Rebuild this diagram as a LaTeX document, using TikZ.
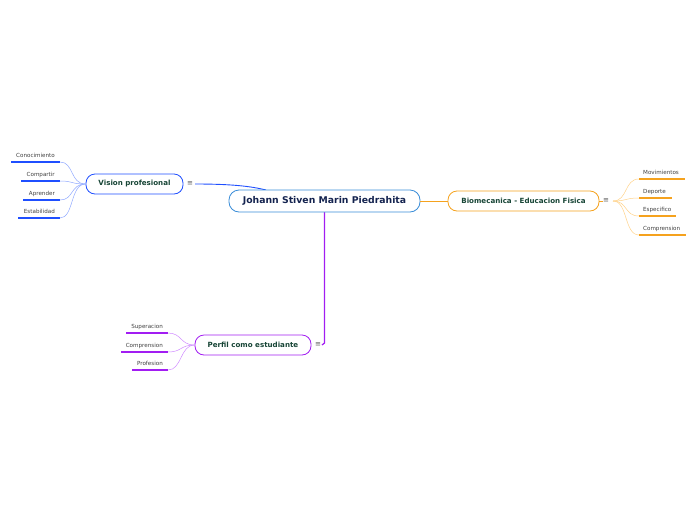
\documentclass[tikz,border=0pt]{standalone}
\usepackage{fontspec}
\setmainfont{DejaVu Sans}
\begin{document}
\begin{tikzpicture}[x=1pt,y=-1pt,
  main/.style={draw=cmain,line width=0.8pt,rounded corners=10pt,minimum width=191pt,minimum height=22pt,inner sep=0pt,font=\bfseries\fontsize{9.3}{11}\selectfont,text=ctext,fill=white},
  topic/.style={draw=#1,line width=0.8pt,rounded corners=9pt,minimum height=20pt,inner sep=0pt,font=\bfseries\fontsize{7.1}{8}\selectfont,text=cgreen,fill=white},
  lbl/.style={inner sep=0pt,font=\fontsize{5.6}{6}\selectfont,text=black!75},
  ico/.style={inner sep=0pt,font=\fontsize{7}{8}\selectfont,text=black!65},
  uline/.style={draw=#1,line width=1.2pt},
  branch/.style={draw=#1,line width=0.5pt}]
\definecolor{cmain}{HTML}{3A8DD8}
\definecolor{ctext}{HTML}{14234F}
\definecolor{cgreen}{HTML}{174536}
\definecolor{cblue}{HTML}{1F4FFF}
\definecolor{lblue}{HTML}{8FA8FF}
\definecolor{corange}{HTML}{F5A21E}
\definecolor{lorange}{HTML}{FFD28A}
\definecolor{cpurple}{HTML}{A21DF2}
\definecolor{lpurple}{HTML}{CF8BFF}
\useasboundingbox (0,0) rectangle (696,520);

% connectors from center
\coordinate (vconn) at (195,184);
\coordinate (ctop) at (266,190);
\draw[cblue,line width=0.9pt] (vconn) .. controls (230,184) and (250,186) .. (ctop);
\coordinate (pconn) at (322,345);
\coordinate (cbot) at (324.5,212);
\draw[cpurple,line width=1.2pt] (cbot) -- (324.5,343) -- (pconn);

% central
\node[main] (c) at (324.5,201) {Johann Stiven Marin Piedrahita};

% Biomecanica
\node[topic=corange,minimum width=151pt] (b) at (523.5,201) {Biomecanica - Educacion Fisica};
\draw[corange,line width=0.6pt] (c.east) -- (b.west);
\node[ico] (bi) at (606,201) {≡};
\coordinate (bo) at (613,201);
\draw[corange,line width=0.5pt] (b.east) -- (bi.west);
\foreach \n/\t/\y/\xe in {b1/Movimientos/179/685,b2/Deporte/198/672,b3/Especifico/216/676,b4/Comprension/235/686}{
  \coordinate (\n a) at (639,\y);
  \coordinate (\n b) at (\xe,\y);
  \node[lbl,anchor=base west] (\n t) at (643,\y-4.5) {\t};
  \draw[uline=corange] (\n a) -- (\n b);
  \draw[branch=lorange] (bo) .. controls (628,201) and (624,\y) .. (\n a);
}

% Vision profesional
\node[topic=cblue,minimum width=97pt] (v) at (134.5,184) {Vision profesional};
\node[ico] (vi) at (190,184) {≡};
\foreach \n/\t/\y/\xs in {v1/Conocimiento/162/11,v2/Compartir/181/21,v3/Aprender/200/23,v4/Estabilidad/218/18}{
  \coordinate (\n a) at (\xs,\y);
  \coordinate (\n b) at (60,\y);
  \node[lbl,anchor=base east] (\n t) at (55,\y-4.5) {\t};
  \draw[uline=cblue] (\n a) -- (\n b);
  \draw[branch=lblue] (\n b) .. controls (74,\y) and (70,184) .. (v.west);
}

% Perfil como estudiante
\node[topic=cpurple,minimum width=116pt] (p) at (253,345) {Perfil como estudiante};
\node[ico] (pi) at (318,345) {≡};
\foreach \n/\t/\y/\xs in {p1/Superacion/333/126,p2/Comprension/352/121,p3/Profesion/370/132}{
  \coordinate (\n a) at (\xs,\y);
  \coordinate (\n b) at (168,\y);
  \node[lbl,anchor=base east] (\n t) at (163,\y-4.5) {\t};
  \draw[uline=cpurple] (\n a) -- (\n b);
  \draw[branch=lpurple] (\n b) .. controls (182,\y) and (180,345) .. (p.west);
}
\end{tikzpicture}
\end{document}
